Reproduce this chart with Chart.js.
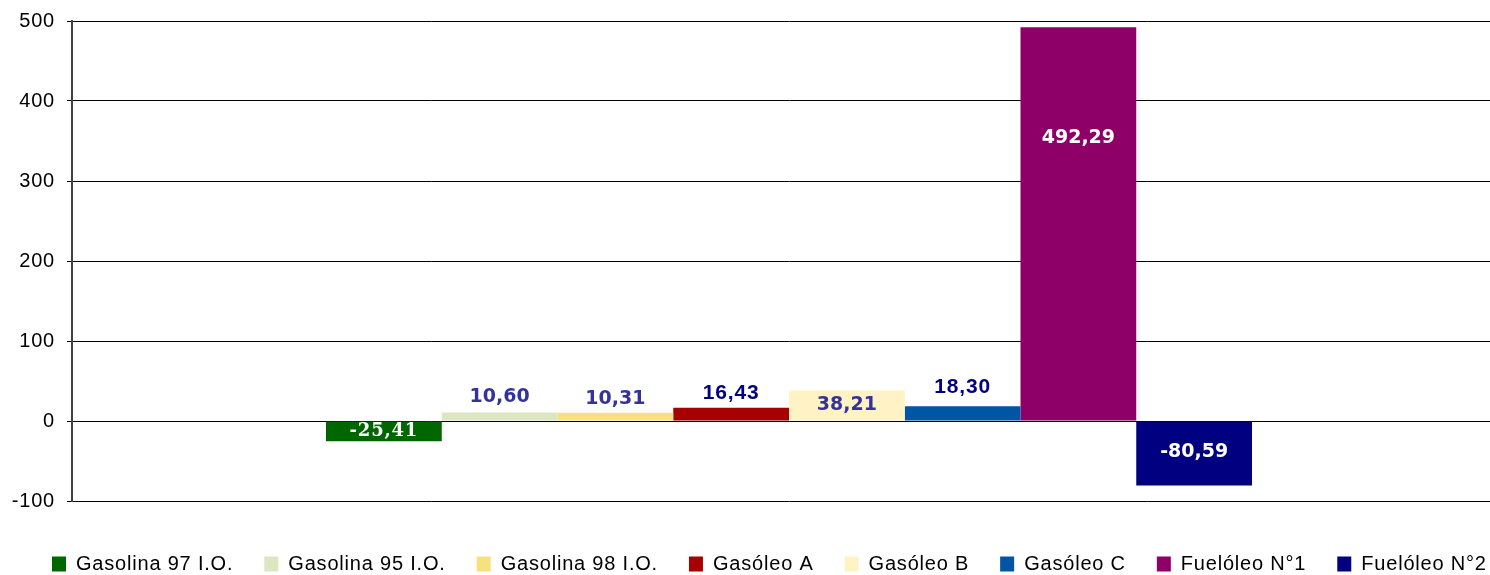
<!DOCTYPE html>
<html>
<head>
<meta charset="utf-8">
<script src="https://cdn.jsdelivr.net/npm/chart.js@4/dist/chart.umd.min.js"></script>
<style>
  html, body { margin: 0; padding: 0; background: #fff; overflow: hidden; }
  #wrap { width: 1506px; height: 575px; }
  canvas { display: block; }
</style>
</head>
<body>
<div id="wrap"><canvas id="c" width="1506" height="575"></canvas></div>
<script>
// ---- data ----
const categories = [''];
const seriesNames = ['Gasolina 97 I.O.', 'Gasolina 95 I.O.', 'Gasolina 98 I.O.', 'Gasóleo A', 'Gasóleo B', 'Gasóleo C', 'Fuelóleo N°1', 'Fuelóleo N°2'];
const seriesValues = [-25.41, 10.60, 10.31, 16.43, 38.21, 18.30, 492.29, -80.59];
const yTickMin = -100;
const yTickMax = 500;
const yTickStep = 100;

// ---- styles ----
const seriesColors = ['#006600', '#DCE6C1', '#F9E07F', '#A60000', '#FFF2C4', '#0055A5', '#8E0068', '#000080'];
const labelStyles = [
  { color: '#ffffff', font: 'bold 18px "DejaVu Serif"', spacing: '0.8px', anchor: 'center', dy: 0 },
  { color: '#333399', font: 'bold 19px "DejaVu Sans"', spacing: '0px', anchor: 'top', dy: -15 },
  { color: '#333399', font: 'bold 19px "DejaVu Sans"', spacing: '0px', anchor: 'top', dy: -14 },
  { color: '#000080', font: 'bold 21px "Liberation Sans"', spacing: '0.8px', anchor: 'top', dy: -15 },
  { color: '#333399', font: 'bold 19px "DejaVu Sans"', spacing: '0px', anchor: 'center', dy: 0 },
  { color: '#000080', font: 'bold 21px "Liberation Sans"', spacing: '0.8px', anchor: 'top', dy: -19 },
  { color: '#ffffff', font: 'bold 19px "DejaVu Sans"', spacing: '0px', anchor: 'top', dy: 111 },
  { color: '#ffffff', font: 'bold 19px "DejaVu Sans"', spacing: '0px', anchor: 'center', dy: -1 }
];
const fmt = v => v.toFixed(2).replace('.', ',');

const LEGEND_SHIFT = 21;
// keep legend on a single row (Excel-like spread) and start it at the Excel offset
(function () {
  const L = Chart.Legend && Chart.Legend._element && Chart.Legend._element.prototype;
  if (!L) return;
  if (L._fitRows) {
    const f = L._fitRows;
    L._fitRows = function (...a) { const m = this.maxWidth; this.maxWidth = m + 600; try { return f.apply(this, a); } finally { this.maxWidth = m; } };
  }
  if (L._draw) {
    const d = L._draw;
    L._draw = function () {
      const r = this.right, l = this.left;
      this.right = r + 600; this.left = l + LEGEND_SHIFT;
      try { d.call(this); } finally { this.right = r; this.left = l; }
    };
  }
})();

const spacingPlugin = {
  id: 'spacing',
  beforeLayout(c) { c.ctx.letterSpacing = '0.8px'; },
  beforeDraw(c) { c.ctx.letterSpacing = '0.8px'; }
};

const valueLabels = {
  id: 'valueLabels',
  afterDatasetsDraw(chart) {
    const ctx = chart.ctx;
    ctx.save();
    ctx.textAlign = 'center';
    ctx.textBaseline = 'middle';
    chart.data.datasets.forEach((ds, i) => {
      const meta = chart.getDatasetMeta(i);
      const el = meta.data[0];
      if (!el) return;
      const p = el.getProps(['x', 'y', 'base'], true);
      const top = Math.min(p.y, p.base), bottom = Math.max(p.y, p.base);
      const st = labelStyles[i];
      const y = st.anchor === 'center' ? (top + bottom) / 2 + st.dy : top + st.dy;
      ctx.font = st.font;
      ctx.letterSpacing = st.spacing;
      ctx.fillStyle = st.color;
      ctx.fillText(fmt(ds.data[0]), p.x, y);
    });
    ctx.restore();
  }
};

const datasets = seriesNames.map((name, i) => ({
  label: name,
  data: [seriesValues[i]],
  backgroundColor: seriesColors[i],
  borderWidth: 0
}));

new Chart(document.getElementById('c'), {
  type: 'bar',
  data: { labels: categories, datasets },
  plugins: [spacingPlugin, valueLabels],
  options: {
    responsive: false,
    animation: false,
    devicePixelRatio: 1,
    events: [],
    layout: { padding: { left: 0, right: 0, top: 21, bottom: -9 } },
    datasets: { bar: { barPercentage: 1, categoryPercentage: 926 / 1434 } },
    scales: {
      x: {
        type: 'category',
        display: true,
        grid: { display: false },
        border: { display: false },
        ticks: { display: false },
        afterFit(s) { s.height = 22; }
      },
      y: {
        min: yTickMin,
        max: yTickMax,
        ticks: { stepSize: yTickStep, color: '#000', padding: 12, font: { family: 'Liberation Sans', size: 20 } },
        grid: { color: '#000', lineWidth: 1, drawTicks: true, tickLength: 5, tickColor: '#000' },
        border: { display: true, color: '#404040', width: 2 },
        afterFit(s) { s.width = 72; s.paddingTop = 10; s.paddingBottom = 10; }
      }
    },
    plugins: {
      tooltip: { enabled: false },
      legend: {
        position: 'bottom',
        align: 'start',
        labels: {
          boxWidth: 14,
          boxHeight: 15,
          padding: 31,
          color: '#000',
          font: { family: 'Liberation Sans', size: 20 }
        }
      }
    }
  }
});
</script>
</body>
</html>
